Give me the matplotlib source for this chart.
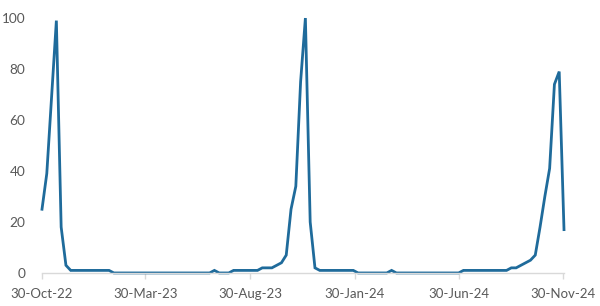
import datetime as dt

import matplotlib
matplotlib.use("Agg")
import matplotlib.pyplot as plt
import matplotlib.dates as mdates

# Weekly index, 110 weeks from 30-Oct-22 to 01-Dec-24
start = dt.date(2022, 10, 30)
values = [
    25, 39, 69, 99, 18, 3, 1, 1, 1, 1,
    1, 1, 1, 1, 1, 0, 0, 0, 0, 0,
    0, 0, 0, 0, 0, 0, 0, 0, 0, 0,
    0, 0, 0, 0, 0, 0, 1, 0, 0, 0,
    1, 1, 1, 1, 1, 1, 2, 2, 2, 3,
    4, 7, 25, 34, 75, 100, 20, 2, 1, 1,
    1, 1, 1, 1, 1, 1, 0, 0, 0, 0,
    0, 0, 0, 1, 0, 0, 0, 0, 0, 0,
    0, 0, 0, 0, 0, 0, 0, 0, 1, 1,
    1, 1, 1, 1, 1, 1, 1, 1, 2, 2,
    3, 4, 5, 7, 18, 30, 41, 74, 79, 17,
]
dates = [start + dt.timedelta(weeks=i) for i in range(len(values))]

tick_dates = [dt.date(2022, 10, 30), dt.date(2023, 3, 30), dt.date(2023, 8, 30),
              dt.date(2024, 1, 30), dt.date(2024, 6, 30), dt.date(2024, 11, 30)]
y_ticks = [0, 20, 40, 60, 80, 100]

LINE = "#1f6b9b"
INK = "#595959"
AXIS = "#d9d9d9"

plt.rcParams["font.family"] = ["Lato", "DejaVu Sans"]

fig = plt.figure(figsize=(6.0, 3.06), dpi=100)
ax = fig.add_axes([0.07, 0.108, 0.87, 0.833])

ax.plot(dates, values, color=LINE, linewidth=2.0, clip_on=False,
        solid_joinstyle="miter")

ax.set_xlim(dates[0], dates[-1])
ax.set_ylim(0, 100)
ax.set_xticks(tick_dates)
ax.xaxis.set_major_formatter(mdates.DateFormatter("%d-%b-%y"))
ax.set_yticks(y_ticks)

for side in ("top", "right", "left"):
    ax.spines[side].set_visible(False)
ax.spines["bottom"].set_color(AXIS)
ax.spines["bottom"].set_linewidth(1.0)

ax.tick_params(axis="x", colors=AXIS, length=4, width=1.0, pad=7,
               labelcolor=INK, labelsize=9.5)
ax.tick_params(axis="y", length=0, pad=12, labelcolor=INK, labelsize=9.8)

fig.savefig("out.png", dpi=100)
